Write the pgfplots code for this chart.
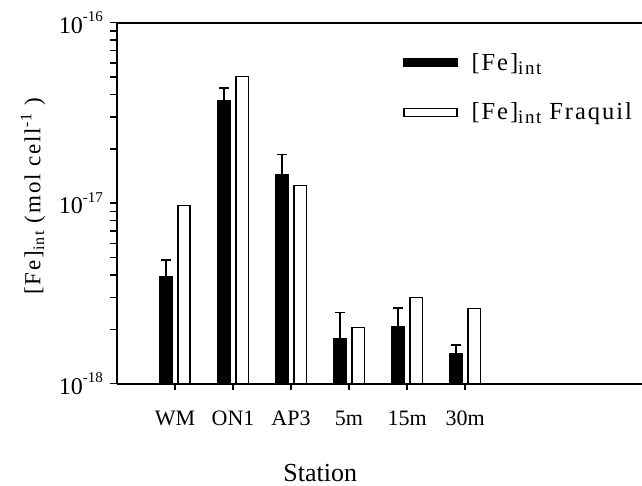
\documentclass[border=0pt]{standalone}
\usepackage{fontspec}
\setmainfont{Liberation Serif}
\newfontfamily\ylfont[LetterSpace=8]{Liberation Serif}
\usepackage{pgfplots}
\pgfplotsset{compat=1.18}
\newcommand{\tl}[1]{10\raisebox{1.05ex}{\fontsize{15}{15}\selectfont #1}}
\newcommand{\legfont}{\ylfont\fontsize{24.5}{27}\selectfont}
\newcommand{\sub}[1]{\raisebox{-0.35ex}{\fontsize{19}{19}\selectfont #1}}
\begin{document}
\begin{tikzpicture}
\begin{axis}[
  scale only axis, width=525pt, height=361pt,
  xmin=-1, xmax=8.05,
  ymode=log, ymin=1e-18, ymax=1e-16, log origin=infty,
  axis x line=box, axis y line=left,
  axis line style={-, line width=1.6pt},
  tick align=outside, xtick pos=left,
  major tick length=6.5pt,
  tick style={line width=1.5pt, black},
  xtick={0,1,2,3,4,5},
  xticklabels={WM,ON1,AP3,5m,15m,30m},
  xticklabel style={font=\fontsize{22}{22}\selectfont, yshift=-17pt},
  ytick={1e-18,2e-18,3e-18,4e-18,5e-18,6e-18,7e-18,8e-18,9e-18,1e-17,2e-17,3e-17,4e-17,5e-17,6e-17,7e-17,8e-17,9e-17,1e-16},
  yticklabels={\tl{-18},,,,,,,,,\tl{-17},,,,,,,,,\tl{-16}},
  yticklabel style={font=\fontsize{24}{24}\selectfont, xshift=-4pt},
  ylabel={[Fe]\textsubscript{int} (mol cell\textsuperscript{-1} )},
  ylabel style={at={(axis description cs:-0.16,0.52)}, anchor=center, font=\ylfont\fontsize{23}{23}\selectfont},
  xlabel={Station},
  xlabel style={at={(axis description cs:0.387,-0.247)}, anchor=center, font=\fontsize{26}{26}\selectfont},
  ybar, bar width=0.21,
  legend cell align=left,
  legend style={draw=none, fill=none, at={(axis description cs:0.545,0.921)}, anchor=north west,
    row sep=27pt, inner sep=0pt, nodes={inner xsep=14pt}},
]
\addplot[fill=black, draw=black, line width=1.2pt, bar shift=-0.155,
  error bars/.cd, y dir=plus, y explicit,
  error bar style={line width=1.3pt, black},
  error mark options={rotate=90, line width=1.3pt, mark size=5pt, black},
  /pgfplots/legend image code/.code={\draw[fill=black, draw=black, line width=1.2pt] (0pt,-4pt) rectangle (53pt,4pt);}]
coordinates {
  (0,3.94e-18) +- (0,0.91e-18)
  (1,3.70e-17) +- (0,0.65e-17)
  (2,1.44e-17) +- (0,0.43e-17)
  (3,1.78e-18) +- (0,0.71e-18)
  (4,2.07e-18) +- (0,0.56e-18)
  (5,1.47e-18) +- (0,0.17e-18)
};
\addlegendentry{\legfont [Fe]\sub{int}}
\addplot[fill=white, draw=black, line width=1.2pt, bar shift=0.155,
  legend image code/.code={\draw[fill=white, draw=black, line width=1.2pt] (0pt,-4pt) rectangle (53pt,4pt);}]
coordinates {
  (0,9.73e-18) (1,5.02e-17) (2,1.26e-17) (3,2.05e-18) (4,2.99e-18) (5,2.62e-18)
};
\addlegendentry{\legfont [Fe]\sub{int} Fraquil}
\coordinate (O) at (rel axis cs:0,0);
\end{axis}
\pgfresetboundingbox
\path (O) ++(-117pt,-102.3pt) rectangle ++(642pt,486pt);
\end{tikzpicture}
\end{document}
